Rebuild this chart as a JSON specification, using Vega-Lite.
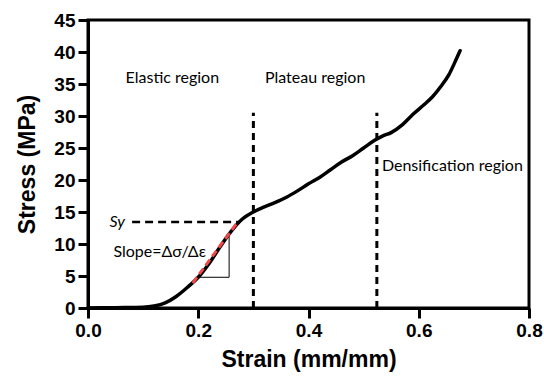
{
  "$schema": "https://vega.github.io/schema/vega-lite/v6.json",
  "width": 441,
  "height": 288,
  "autosize": "none",
  "padding": {"left": 88, "top": 20, "right": 15, "bottom": 76},
  "background": "white",
  "config": {
    "view": {"stroke": "black", "strokeWidth": 3},
    "axis": {
      "grid": false, "domainColor": "black", "domainWidth": 3, "tickColor": "black", "tickWidth": 3, "tickSize": 10,
      "labelFont": "Liberation Sans", "labelFontWeight": "bold", "labelFontSize": 19, "labelColor": "black",
      "labelPadding": 3, "labelFlush": false,
      "titleFont": "Liberation Sans", "titleFontWeight": "bold", "titleFontSize": 23, "titleColor": "black"
    }
  },
  "datasets": {
    "curve": [
      {"x": 0.0, "y": 0.0}, {"x": 0.05, "y": 0.05}, {"x": 0.1, "y": 0.1},
      {"x": 0.12, "y": 0.3}, {"x": 0.14, "y": 0.8}, {"x": 0.16, "y": 1.8},
      {"x": 0.18, "y": 3.2}, {"x": 0.2, "y": 4.8}, {"x": 0.22, "y": 7.0},
      {"x": 0.24, "y": 9.6}, {"x": 0.26, "y": 12.0}, {"x": 0.28, "y": 13.9},
      {"x": 0.3, "y": 15.0}, {"x": 0.32, "y": 15.8}, {"x": 0.34, "y": 16.5},
      {"x": 0.36, "y": 17.3}, {"x": 0.38, "y": 18.3}, {"x": 0.4, "y": 19.4},
      {"x": 0.42, "y": 20.4}, {"x": 0.44, "y": 21.6}, {"x": 0.46, "y": 22.8},
      {"x": 0.48, "y": 23.8}, {"x": 0.5, "y": 25.0}, {"x": 0.52, "y": 26.2},
      {"x": 0.535, "y": 26.9}, {"x": 0.55, "y": 27.4}, {"x": 0.57, "y": 28.6},
      {"x": 0.59, "y": 30.3}, {"x": 0.61, "y": 31.8}, {"x": 0.625, "y": 33.0},
      {"x": 0.64, "y": 34.6}, {"x": 0.655, "y": 36.5}, {"x": 0.665, "y": 38.3},
      {"x": 0.675, "y": 40.2}
    ],
    "slope": [{"x": 0.19, "y": 3.9}, {"x": 0.272, "y": 13.5}],
    "regions": [
      {"x": 0.3, "y": 0, "x2": 0.3, "y2": 30.5},
      {"x": 0.524, "y": 0, "x2": 0.524, "y2": 30.5}
    ],
    "sy": [{"x": 0.08, "y": 13.45, "x2": 0.272, "y2": 13.45}],
    "triangle": [
      {"x": 0.2, "y": 4.8, "x2": 0.256, "y2": 4.8},
      {"x": 0.256, "y": 4.8, "x2": 0.256, "y2": 11.2}
    ],
    "labels": [
      {"x": 0.153, "y": 36.0, "label": "Elastic region"},
      {"x": 0.412, "y": 36.0, "label": "Plateau region"},
      {"x": 0.661, "y": 22.2, "label": "Densification region"},
      {"x": 0.13, "y": 8.75, "label": "Slope=Δσ/Δε"}
    ],
    "sylabel": [{"x": 0.053, "y": 13.45, "label": "Sy"}]
  },
  "encoding": {
    "x": {
      "field": "x", "type": "quantitative",
      "scale": {"domain": [0, 0.8], "nice": false},
      "axis": {"values": [0, 0.2, 0.4, 0.6, 0.8], "format": ".1f", "title": "Strain (mm/mm)", "titlePadding": 8}
    },
    "y": {
      "field": "y", "type": "quantitative",
      "scale": {"domain": [0, 45], "nice": false},
      "axis": {"values": [0, 5, 10, 15, 20, 25, 30, 35, 40, 45], "title": "Stress (MPa)", "titlePadding": 14}
    }
  },
  "layer": [
    {
      "data": {"name": "regions"},
      "mark": {"type": "rule", "color": "black", "strokeWidth": 3, "strokeDash": [7, 5]},
      "encoding": {"x2": {"field": "x2"}, "y2": {"field": "y2"}}
    },
    {
      "data": {"name": "sy"},
      "mark": {"type": "rule", "color": "black", "strokeWidth": 2.5, "strokeDash": [8, 5]},
      "encoding": {"x2": {"field": "x2"}, "y2": {"field": "y2"}}
    },
    {
      "data": {"name": "triangle"},
      "mark": {"type": "rule", "color": "black", "strokeWidth": 1},
      "encoding": {"x2": {"field": "x2"}, "y2": {"field": "y2"}}
    },
    {
      "data": {"name": "curve"},
      "mark": {"type": "line", "color": "black", "strokeWidth": 3.5, "strokeJoin": "round", "strokeCap": "round", "interpolate": "monotone"}
    },
    {
      "data": {"name": "slope"},
      "mark": {"type": "line", "color": "#f04848", "strokeWidth": 3, "strokeDash": [7, 4]}
    },
    {
      "data": {"name": "labels"},
      "mark": {"type": "text", "font": "Lato", "fontSize": 16, "color": "black"},
      "encoding": {"text": {"field": "label"}}
    },
    {
      "data": {"name": "sylabel"},
      "mark": {"type": "text", "font": "Lato", "fontSize": 16, "fontStyle": "italic", "color": "black"},
      "encoding": {"text": {"field": "label"}}
    }
  ]
}
